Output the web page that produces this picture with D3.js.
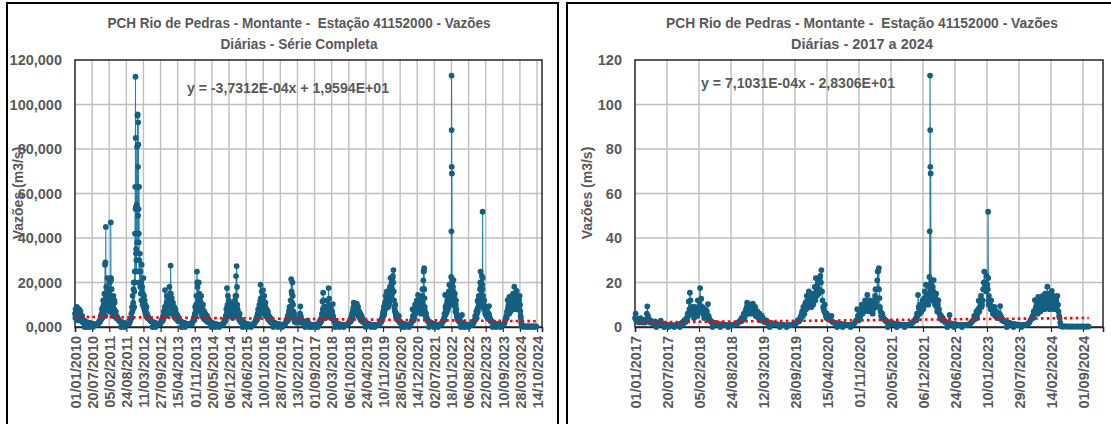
<!DOCTYPE html>
<html><head><meta charset="utf-8">
<script src="https://cdn.jsdelivr.net/npm/d3@7"></script>
<style>
body{margin:0;background:#fff}
svg{display:block}
text{font-family:"Liberation Sans",Arial,sans-serif;fill:#595959;font-weight:bold;white-space:pre}
</style>
</head><body>
<svg id="c" width="1111" height="424"></svg>
<script>
// Weekly samples (every 7 days from 1 Jan of each year), m3/s
const q2010 = [6,8,5,9,7,4,6,8,5, 7,4,3.5,5,3,2.5,3,0, 2.5,2,0,2.2,1.8,2,1.6,0,1.8,1.5,1.4,1.6,1.3,0,1.2,1.3,1.1,1.2,1,1.1,1.4,1.2, 2,1.8,3,2.5,5,4,8,6,12,10,15,9,14];
const q2011 = [18,12,22,15,10,16,20,13,22,17,12,9,14, 8,11,6,7,5,4.5,4,3.5,3, 2.8,2.5,2.3,0,2.2,2,1.8,1.9,1.6,0,1.5,1.4,1.3,1.2,1.5,1.3,1.2, 3,2.5,4,6,9,14,11,20,16,42,53,35,55];
const q2012 = [95,50,38,30,33,25,20,28,18,15,22,14,12, 10,8,9,6,5,4.5,4,3.5,3, 2.8,2.6,2.4,0,2.2,2,1.9,1.8,0,1.6,1.5,1.4,1.3,1.3,1.2,1.4,1.5, 2,3,2.5,4,5,7,6,16.6,9,8,14,10,12];
const q2013 = [12,18,15,27.6,10,13,8,11,7,9,6,8,5, 6,4.5,5,3.5,4,3,2.8,2.5,0, 2.2,2,1.9,1.8,1.7,0,1.6,1.5,1.4,1.3,1.2,1.2,1.1,1.3,1.4,1.2,1.5, 2,2.5,3,4,5,9,7,14,24.9,18,12,20,15];
const q2014 = [12,9,14,8,6,10,5,7,4.5,6,4,3.5,5, 3,3.5,2.5,3,2.2,2,0,1.8,1.7, 1.6,1.5,1.4,0,1.3,1.2,1.2,1.1,1,1,0,0.9,1,1.1,1.2,1,1.3, 1.5,2,3,2.5,5,8,17.5,10,7,12,9,6,11];
const q2015 = [8,10,6,9,5,7,12,14,22.9,27.4,10,7,5, 4,6,3.5,3,2.5,2.2,0,2,1.8, 1.7,1.6,1.5,1.4,0,1.3,1.2,1.2,1.1,1,1,0,1.1,1.2,1,1.3,1.5, 1.8,2.2,3,4,3.5,6,8,5,10,7,19,9,16];
const q2016 = [12,16.6,9,14,7,11,6,8,5,7,4.5,5,3.5, 3,4,2.5,2.2,2,0,1.9,1.8,1.7, 1.6,1.5,1.4,1.4,0,1.3,1.2,1.1,1.1,1,1,0,1,1.1,1.2,1.4,1.5, 2,2.5,3,5,4,7,9,6,12,21.5,15,20,10];
const q2017 = [4,3,2.5,3.5,2.8,4,3,2.5,3.2,2,3,9.3,4, 2.5,3,2,2.2,1.8,2.5,0,1.6,2, 1.8,2.8,1.5,1.4,0,1.2,1.1,1,0,0.9,0.8,0.8,0.7,0,0.8,0.9,1, 1.2,0,1.5,2,1.8,3,2.5,4,6,11.5,15.4,8.8,7];
const q2018 = [6,9,5,8,12,7,17.5,12.7,9,6,8,5,7, 10.3,4,3,2.5,0,2,1.8,1.6,1.5, 1.4,1.3,0,1.2,1.1,1,1,0.9,0.8,0,0.8,0.7,0.8,0.9,1,1.2,1.4, 1.6,2,2.5,3,4,3.5,6,5,8,10.9,7,9,6];
const q2019 = [8,10.5,6,9,5,7,4,6,3.5,5,4,3,2.5, 3,2.2,2,0,1.8,1.6,1.5,1.4,1.3, 1.2,1.2,1.1,0,1,0.9,0.9,0.8,0.8,0,0.7,0.8,0.8,0.9,1,1.1,1.3, 1.5,2,3,2.5,4,5,7,9,6,11,14,10,16];
const q2020 = [12,9,15,11,18,22,14,20,17,23,25.6,12,8, 10,5,6,4,3.5,3,5,2.2,2, 1.8,1.7,0,1.6,1.5,1.4,1.3,0,1.2,1.1,1.1,1,1,0.9,0,1,1.2, 1.5,2,3,8,4,5,6,10,7,9,12,8,14.4];
const q2021 = [9,12,7,10,8,12,17,9,25,26.5,9,5,6, 4,3.5,3,2.5,0,2.2,2,1.8,1.7, 1.6,1.5,1.4,0,1.3,1.2,1.1,1.1,1,1,0,0.9,0.9,1,1.1,1.3,1.5, 2,2.5,3,4,6,14.4,8,10,7,12,9,16,19];
const q2022 = [15,10,22.5,16,21,18,14,10,15,7,12,6,4, 3.5,4,3,2.5,2.2,0,2,5.4,1.6, 1.5,1.4,0,1.3,1.2,1.1,1,1,0.9,0,0.9,0.8,0.8,0.9,1,1.2,1.4, 1.8,2.5,3,5,4,7,6,11.8,9,14,10,17,24.9];
const q2023 = [20,23,17,14,10,12,8,7,9,6,5,4,5, 9.4,4,3.5,3,2.5,2.2,0,2,1.8, 1.7,1.5,1.4,0,1.3,1.2,1.1,1,1,0.9,0,0.9,0.8,0.9,1,1.2,1.5, 2,3,4,5,7,12.1,9,8,13.5,11,7,10,14];
const q2024 = [11,15,9,18.1,13,8,10,16.2,12,8,9,12,14, 7,4,0.4,0.3,0.3,0.2,0.3,0.3,0.2, 0.2,0.3,0.2,0.2,0.3,0.2,0.2,0.2,0.3,0.2,0.2,0.2,0.3,0.2,0.2,0.2,0.2,0.3,0.2];
// Mid-week readings in the wet season: first 17 = weeks 0-16 (Jan-Apr), rest = weeks 42-51 (mid Oct-Dec)
const m2010 = [4,5,7,3,5,6,3,4,7,3,5,2.5,3,2,3,1.5,2, 3,3.5,6,4,9,5,7,11,5,8];
const m2011 = [9,16,8,11,14,7,10,17,9,12,6,10,5,12,6,5,4, 4,7,8,17,9,25,20,33,25,42];
const m2012 = [63,42,25,20,18,15,12,16,10,12,9,8,7,6,5,5,4, 3,4,5,9,6,5,11,7,9,6];
const m2013 = [8,10,9,15,7,9,6,7,5,6,4,5,4,3.5,3,3,2.5, 3,6,5,10,8,20,11,9,13,10];
const m2014 = [7,11,6,5,8,4,6,3.5,5,3,4,2.5,3,2.5,2,2,1.8, 3,4,6,9,14,5,8,6,9,5];
const m2015 = [5,7,4,6,8,5,9,10,14,18,8,5,4,3,3.5,2.5,2, 3,5,4,6,8,6,12,13,7,11];
const m2016 = [9,12,6,10,9,5,7,4.5,6,3.5,4,3,2.5,2.5,2,2,1.8, 3,5,4,6,9,8,16,11,14,7];
const m2017 = [6,2.5,3,2,3.5,2.5,2,3,2.5,2.8,6,5,3,2,2.5,1.8,2, 1.5,2.5,2,3.5,3,5,8,12,6,9];
const m2018 = [4,6,7,5,8,10,9,8,6,4,5,6,4,5,3,2.5,2, 2.5,3,5,4,7,9,6,8,10,7];
const m2019 = [9,7,8,5,6,4.5,5,3,4,3,2.5,2.5,2,2,1.8,1.6,1.5, 3,3.5,6,5,7,10,8,12,9,13];
const m2020 = [9,13,10,14,12,16,19,15,22,20,16,9,7,6,4,4.5,3.5, 5,3,4,8,6,9,7,10,11,9];
const m2021 = [7,8,10,6,9,14,11,21,17,13,7,6,4.5,3.5,3,2.5,2.2, 3,5,9,6,7,9,8,13,11,15];
const m2022 = [12,18,14,20,12,16,11,13,9,10,8,5,5,3,3,2.5,2, 3.5,5,4,8,7,11,9,12,20,18];
const m2023 = [16,19,12,11,8,9,6,8,5,7,4,4.5,6,5,3,3,2.5, 4,6,8,10,6,11,9,12,8,11];
const m2024 = [8,12,13,10,15,11,13,9,14,10,13,8,10,5,2,0.3,0.2];
const sampleYears = [2010,2011,2012,2013,2014,2015,2016,2017,2018,2019,2020,2021,2022,2023,2024];
// Extra daily readings around flood peaks
const extraDates = ["2010-12-18","2010-12-22","2010-12-27","2011-02-20","2011-02-23","2011-02-25","2011-12-06","2011-12-09","2011-12-11","2011-12-13","2011-12-20","2011-12-27","2011-12-29","2012-01-03","2012-01-05","2012-01-07","2012-01-10","2012-01-12","2012-01-14","2012-01-17","2012-01-20","2021-03-02","2021-03-06","2022-01-17","2022-01-19","2022-01-20","2022-01-21","2022-01-23","2022-01-25","2022-02-11","2023-01-17","2023-01-18","2023-01-20"];
const extraValues = [28,29,45,22,47,21,63,112.5,85,54,30,81,38,95.5,82,72,92,82,53,42,63,25.2,17,43,113,88.5,72,69,19,21.1,51.8,22,10];
const yTicks = [0,20,40,60,80,100,120];
const leftTickLabels = ["01/01/2010","20/07/2010","05/02/2011","24/08/2011","11/03/2012","27/09/2012","15/04/2013","01/11/2013","20/05/2014","06/12/2014","24/06/2015","10/01/2016","28/07/2016","13/02/2017","01/09/2017","20/03/2018","06/10/2018","24/04/2019","10/11/2019","28/05/2020","14/12/2020","02/07/2021","18/01/2022","06/08/2022","22/02/2023","10/09/2023","28/03/2024","14/10/2024"];
const rightTickLabels = ["01/01/2017","20/07/2017","05/02/2018","24/08/2018","12/03/2019","28/09/2019","15/04/2020","01/11/2020","20/05/2021","06/12/2021","24/06/2022","10/01/2023","29/07/2023","14/02/2024","01/09/2024"];
const trendLeft = [-3.7312e-4, 19.594];
const trendRight = [7.1031e-4, -28.306];
const titleLine1 = "PCH Rio de Pedras - Montante -  Estação 41152000 - Vazões";
const leftTitle2 = "Diárias - Série Completa";
const rightTitle2 = "Diárias - 2017 a 2024";
const leftEq = "y = -3,7312E-04x + 1,9594E+01";
const rightEq = "y = 7,1031E-04x - 2,8306E+01";
const axisTitle = "Vazões (m3/s)";

const DAY = 864e5;
const parseDMY = s => { const [d,m,y] = s.split("/").map(Number); return new Date(Date.UTC(y,m-1,d)); };
const parseISO = s => { const [y,m,d] = s.split("-").map(Number); return new Date(Date.UTC(y,m-1,d)); };
const serial = d => (d - Date.UTC(1899,11,30)) / DAY;
const yearArrays = [q2010,q2011,q2012,q2013,q2014,q2015,q2016,q2017,q2018,q2019,q2020,q2021,q2022,q2023,q2024];
const midArrays = [m2010,m2011,m2012,m2013,m2014,m2015,m2016,m2017,m2018,m2019,m2020,m2021,m2022,m2023,m2024];

let series = [];
sampleYears.forEach((yr, k) => {
  const t0 = Date.UTC(yr,0,1);
  yearArrays[k].forEach((v, i) => series.push({date: new Date(t0 + i*7*DAY), value: v}));
  midArrays[k].forEach((v, i) => {
    const week = i < 17 ? i : 42 + (i - 17);
    series.push({date: new Date(t0 + (week*7 + 4)*DAY), value: v});
  });
});
extraDates.forEach((s, i) => series.push({date: parseISO(s), value: extraValues[i]}));
series.sort((a,b) => a.date - b.date);

const svg = d3.select("#c");
svg.append("rect").attr("width",1111).attr("height",424).attr("fill","#fff");

function fitText(sel, w) {
  sel.attr("textLength", w).attr("lengthAdjust","spacingAndGlyphs");
}

function panel(o) {
  const g = svg.append("g");
  g.append("rect").attr("x",o.bx).attr("y",3).attr("width",o.bw).attr("height",440)
    .attr("fill","none").attr("stroke","#000").attr("stroke-width",2);
  const ticks = o.tickLabels.map(parseDMY);
  const x = d3.scaleUtc().domain([ticks[0], new Date(+ticks[ticks.length-1] + o.tailDays*DAY)]).range([o.x0, o.x1]);
  const y = d3.scaleLinear().domain([0,120]).range([327,60]);
  const data = series.filter(d => d.date >= ticks[0]);
  // grid
  g.append("g").selectAll("line").data(yTicks.slice(1,-1)).join("line")
    .attr("x1",o.x0).attr("x2",o.x1).attr("y1",d=>y(d)).attr("y2",d=>y(d))
    .attr("stroke","#bfbfbf").attr("stroke-width",1.4);
  g.append("g").selectAll("line").data(ticks.slice(1)).join("line")
    .attr("x1",d=>x(d)).attr("x2",d=>x(d)).attr("y1",60).attr("y2",327)
    .attr("stroke","#bfbfbf").attr("stroke-width",1.4);
  g.append("rect").attr("x",o.x0).attr("y",60).attr("width",o.x1-o.x0).attr("height",267)
    .attr("fill","none").attr("stroke","#262626").attr("stroke-width",1.5);
  // x axis
  const xa = g.append("g").attr("transform","translate(0,327)")
    .call(d3.axisBottom(x).tickValues(ticks).tickSize(5).tickFormat(d3.utcFormat("%d/%m/%Y")));
  xa.select(".domain").attr("stroke","#262626").attr("stroke-width",1.6);
  xa.selectAll(".tick line").attr("stroke","#262626").attr("stroke-width",1.2);
  xa.selectAll(".tick text").attr("transform","rotate(-90)").attr("x",-9).attr("y",0).attr("dy","0.36em")
    .attr("text-anchor","end").attr("font-size",14.5).attr("fill","#595959").attr("font-family",null);
  // y labels
  g.append("g").selectAll("text").data(yTicks).join("text")
    .attr("x",o.labelX).attr("y",d=>y(d)).attr("dy","0.36em").attr("text-anchor","end")
    .attr("font-size",14.5).text(o.yFmt);
  g.append("text").attr("transform",`translate(${o.atx},193) rotate(-90)`).attr("text-anchor","middle")
    .attr("dy","0.36em").attr("font-size",14).text(axisTitle);
  // series
  g.append("path").datum(data).attr("fill","none").attr("stroke","#2580a8").attr("stroke-width",1.1)
    .attr("d", d3.line().x(d=>x(d.date)).y(d=>y(d.value)));
  g.append("g").selectAll("circle").data(data).join("circle")
    .attr("cx",d=>x(d.date)).attr("cy",d=>y(d.value)).attr("r",2.9).attr("fill","#156082");
  // trend
  const ext = d3.extent(data, d=>d.date);
  g.append("path").datum(ext).attr("fill","none").attr("stroke","#ff0000").attr("stroke-width",2.6)
    .attr("stroke-dasharray","2.6,3.2")
    .attr("d", d3.line().x(d=>x(d)).y(d=>y(o.trend[0]*serial(d)+o.trend[1])));
  // titles
  fitText(g.append("text").attr("x",o.tx).attr("y",28).attr("text-anchor","middle").attr("font-size",15.5).text(titleLine1), o.w1);
  fitText(g.append("text").attr("x",o.tx).attr("y",49).attr("text-anchor","middle").attr("font-size",15.5).text(o.title2), o.w2);
  fitText(g.append("text").attr("x",o.ex).attr("y",o.ey).attr("text-anchor","middle").attr("font-size",15.5).text(o.eq), o.we);
}

panel({bx:7,bw:551,x0:75,x1:542,tickLabels:leftTickLabels,tailDays:58,labelX:62,
  yFmt:d=>d3.format(".3f")(d).replace(".",","),atx:18,trend:trendLeft,
  tx:299,title2:leftTitle2,w1:383,w2:157,eq:leftEq,ex:288,ey:93,we:202});
panel({bx:567,bw:560,x0:635,x1:1103,tickLabels:rightTickLabels,tailDays:125,labelX:622,
  yFmt:d=>d3.format("d")(d),atx:587,trend:trendRight,
  tx:862,title2:rightTitle2,w1:392,w2:142,eq:rightEq,ex:798,ey:88,we:194});
</script>
</body></html>
